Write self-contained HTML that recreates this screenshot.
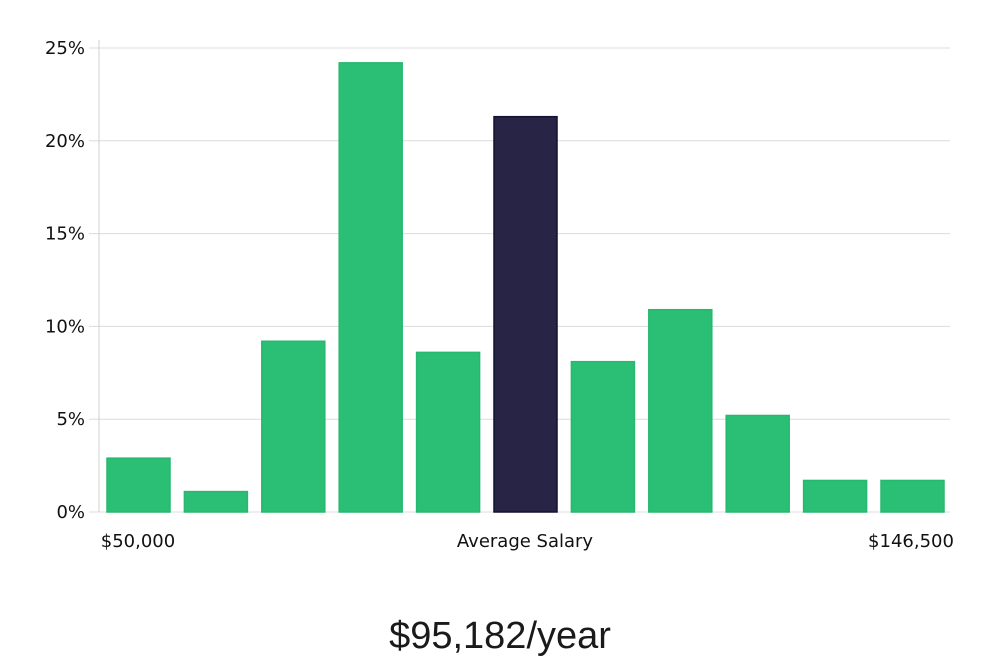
<!DOCTYPE html>
<html><head><meta charset="utf-8"><style>
html,body{margin:0;padding:0;background:#fff;}
svg{display:block;}
</style></head><body>
<svg id="chart" width="1000" height="660" xmlns="http://www.w3.org/2000/svg">
<g id="grid"></g>
<g id="bars"></g>
<g id="axes"></g>
<text x="138" y="547" text-anchor="middle" font-family="DejaVu Sans, sans-serif" font-size="18" fill="#111">$50,000</text>
<text x="525" y="547" text-anchor="middle" font-family="DejaVu Sans, sans-serif" font-size="18" fill="#111">Average Salary</text>
<text x="911" y="547" text-anchor="middle" font-family="DejaVu Sans, sans-serif" font-size="18" fill="#111">$146,500</text>
<text x="500" y="648" text-anchor="middle" font-family="Liberation Sans, sans-serif" font-weight="300" font-size="38" fill="#1a1a1a">$95,182/year</text>
</svg>
<script>
const categories=["b1","b2","b3","b4","b5","b6","b7","b8","b9","b10","b11"];
const values=[2.9,1.1,9.2,24.2,8.6,21.3,8.1,10.9,5.2,1.7,1.7];
const highlightIndex=5;
const tickValues=[0,5,10,15,20,25];
const tickLabels=["0%","5%","10%","15%","20%","25%"];
const NS="http://www.w3.org/2000/svg";
const x0=99,x1=950,y0=512,yTop=48,maxV=25;
const y=v=>y0-(v/maxV)*(y0-yTop);
const step=77.4,bw=63,start=107;
const xb=i=>start+i*step;
function mk(tag,attrs,parent){const e=document.createElementNS(NS,tag);for(const k in attrs)e.setAttribute(k,attrs[k]);parent.appendChild(e);return e;}
const grid=document.getElementById('grid'),bars=document.getElementById('bars'),axes=document.getElementById('axes');
tickValues.forEach((t,i)=>{
  const l=mk('line',{x1:89,x2:x1,y1:y(t),y2:y(t),stroke:'#dcdcdc','stroke-width':1},grid);
  
  
  const tx=mk('text',{x:85,y:y(t)+6,'text-anchor':'end','font-family':'DejaVu Sans, sans-serif','font-size':18,fill:'#111'},axes);
  tx.textContent=tickLabels[i];
  
  
});
const ax=mk('line',{x1:x0,x2:x0,y1:40,y2:y0,stroke:'#d0d0d0','stroke-width':1},axes);


values.forEach((v,i)=>{
  const hl=i===highlightIndex;
  const r=mk('rect',{x:xb(i),y:y(v),width:bw,height:y0-y(v),fill:hl?'#272446':'#2bbf76',stroke:hl?'#141230':'#27b86f','stroke-width':1.5},bars);
  
  
});
</script>
</body></html>
